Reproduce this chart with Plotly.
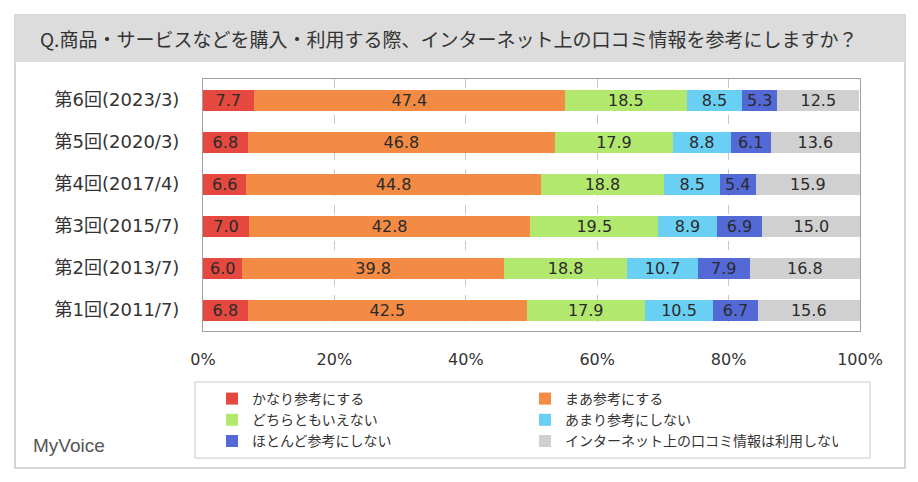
import plotly.graph_objects as go

categories = ["第1回(2011/7)", "第2回(2013/7)", "第3回(2015/7)", "第4回(2017/4)", "第5回(2020/3)", "第6回(2023/3)"]
series_names = ["かなり参考にする", "まあ参考にする", "どちらともいえない", "あまり参考にしない", "ほとんど参考にしない", "インターネット上の口コミ情報は利用しない"]
v_kanari = [6.8, 6.0, 7.0, 6.6, 6.8, 7.7]
v_maa = [42.5, 39.8, 42.8, 44.8, 46.8, 47.4]
v_dochira = [17.9, 18.8, 19.5, 18.8, 17.9, 18.5]
v_amari = [10.5, 10.7, 8.9, 8.5, 8.8, 8.5]
v_hotondo = [6.7, 7.9, 6.9, 5.4, 6.1, 5.3]
v_riyou = [15.6, 16.8, 15.0, 15.9, 13.6, 12.5]
x_ticks = [0, 20, 40, 60, 80, 100]
x_tick_labels = ["0%", "20%", "40%", "60%", "80%", "100%"]
title_text = "Q.商品・サービスなどを購入・利用する際、インターネット上の口コミ情報を参考にしますか？"

values = [v_kanari, v_maa, v_dochira, v_amari, v_hotondo, v_riyou]
colors = ["#e5483e", "#f38b45", "#b2e86e", "#6ad0f3", "#5369d6", "#d0d0d0"]

FONT = "DejaVu Sans, Noto Sans CJK JP, sans-serif"

fig = go.Figure()
for name, vals, col in zip(series_names, values, colors):
    fig.add_trace(go.Bar(
        y=categories, x=vals, name=name, orientation="h",
        marker=dict(color=col, line=dict(width=0)),
        text=[f"{v:.1f}" for v in vals], textposition="inside",
        insidetextanchor="middle", constraintext="none",
        textfont=dict(size=16, color="#2a2a2a", family=FONT),
        hoverinfo="skip",
    ))

W, H = 918, 482
L, R, T, B = 203, 58, 79, 151
PW, PH = W - L - R, H - T - B


def px_x(x):
    return (x - L) / PW


def px_y(y):
    return (H - B - y) / PH


shapes = [
    dict(type="rect", xref="paper", yref="paper", layer="below",
         x0=px_x(15), x1=px_x(905), y0=px_y(468), y1=px_y(15),
         line=dict(color="#c8c8c8", width=1.5), fillcolor="white"),
    dict(type="rect", xref="paper", yref="paper", layer="below",
         x0=px_x(15), x1=px_x(905), y0=px_y(62), y1=px_y(15),
         line=dict(width=0), fillcolor="#dcdcdc"),
    dict(type="rect", xref="paper", yref="paper", layer="below",
         x0=px_x(195), x1=px_x(870), y0=px_y(458), y1=px_y(382),
         line=dict(color="#c8c8c8", width=1), fillcolor="white"),
]

fig.update_layout(
    width=W, height=H,
    margin=dict(l=L, r=R, t=T, b=B, autoexpand=False),
    paper_bgcolor="white", plot_bgcolor="white",
    barmode="stack", bargap=0.5,
    font=dict(family=FONT, color="#333333"),
    shapes=shapes,
    annotations=[dict(text=title_text, xref="paper", yref="paper",
                      x=px_x(448), y=px_y(39),
                      xanchor="center", yanchor="middle", showarrow=False,
                      font=dict(size=19, color="#333333", family="Noto Sans CJK JP")),
                 dict(text="MyVoice", xref="paper", yref="paper",
                      x=px_x(31), y=px_y(445),
                      xanchor="left", yanchor="middle", showarrow=False,
                      font=dict(size=19, color="#555555", family="Liberation Sans"))],
    xaxis=dict(range=[0, 100], tickvals=x_ticks, ticktext=x_tick_labels,
               showgrid=True, gridcolor="#c8c8c8", griddash="dash", gridwidth=1,
               showline=True, linecolor="#a0a0a0", mirror=True, linewidth=1,
               zeroline=False, ticks="", tickfont=dict(size=16, color="#333333"),
               ticklabelstandoff=14, fixedrange=True),
    yaxis=dict(showline=True, linecolor="#a0a0a0", mirror=True, linewidth=1,
               showgrid=False, ticks="", tickfont=dict(size=18, color="#333333"),
               ticklabelstandoff=19, fixedrange=True),
    legend=dict(orientation="h", xref="container", x=212 / W, xanchor="left",
                yref="container", y=1 - 383 / H, yanchor="top",
                entrywidth=268, entrywidthmode="pixels", itemwidth=30,
                font=dict(size=14, color="#333333", family="Noto Sans CJK JP"),
                bgcolor="rgba(0,0,0,0)", tracegroupgap=0, traceorder="normal"),
    showlegend=True,
)

fig.write_html("out.html", config={"displayModeBar": False},
               post_script="document.body.style.margin='0px';document.body.style.overflow='hidden';")
